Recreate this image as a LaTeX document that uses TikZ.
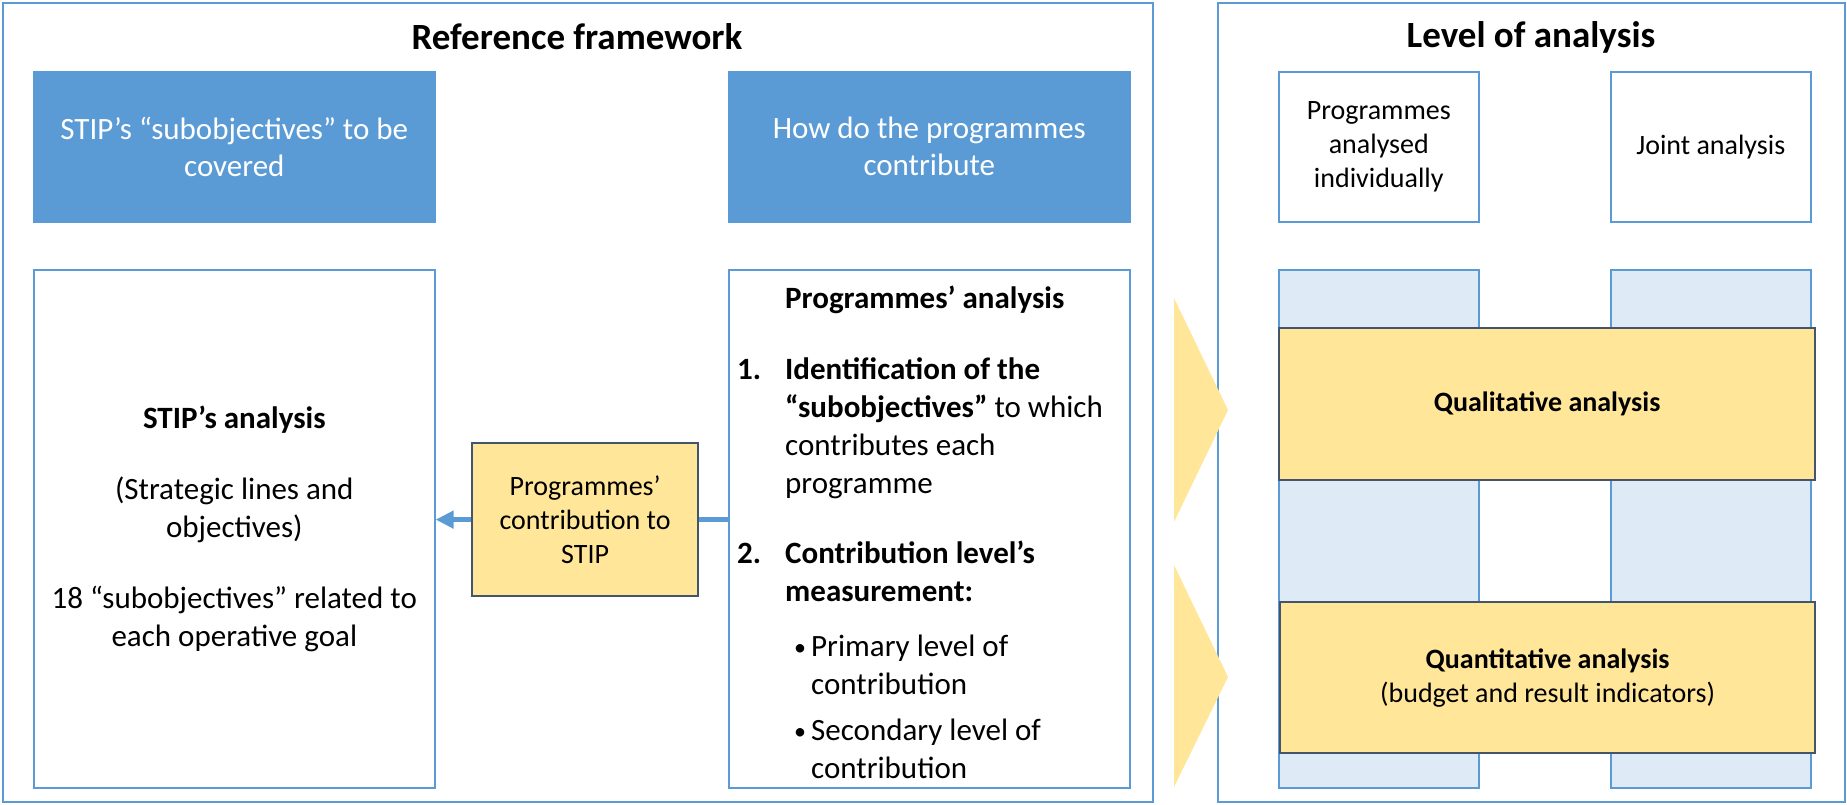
\documentclass[tikz,border=0pt]{standalone}
\usepackage{fontspec}
\setmainfont{Carlito}
\usetikzlibrary{positioning,arrows.meta}

\definecolor{officeblue}{HTML}{5B9BD5}
\definecolor{paleblue}{HTML}{DEEBF7}
\definecolor{paleyellow}{HTML}{FFE699}
\definecolor{darkslate}{HTML}{44546A}

\newcommand{\levelbullet}{\hspace{9pt}\makebox[17pt][l]{\raisebox{1.5pt}{\fontsize{24}{24}\selectfont•}}}

\tikzset{
  panel/.style={draw=officeblue, line width=1.6pt, anchor=north west, inner sep=0pt},
  headbox/.style={panel, fill=officeblue, text=white, align=center,
    minimum width=401pt, minimum height=150pt, font=\fontsize{31}{37}\selectfont},
  levelbox/.style={panel, fill=white, align=center,
    minimum width=200pt, minimum height=150pt, font=\fontsize{28}{34}\selectfont},
  column/.style={panel, fill=paleblue, minimum width=200pt, minimum height=518pt},
  keybox/.style={draw=darkslate, line width=2.2pt, fill=paleyellow, anchor=north west,
    inner sep=0pt, align=center, font=\fontsize{28}{34}\selectfont},
  heading/.style={font=\bfseries\fontsize{37}{44}\selectfont},
  flow/.style={draw=officeblue, line width=5pt, -{Triangle[length=18pt,width=17pt]}},
}

\begin{document}
\begin{tikzpicture}[x=1pt,y=-1pt]
  \useasboundingbox (0,0) rectangle (1847,804);

  % two outer panels
  \node[panel, minimum width=1150pt, minimum height=799pt] (refpanel) at (2,2) {};
  \node[panel, minimum width=627pt, minimum height=799pt] (levelpanel) at (1217,2) {};
  \node[heading] (reftitle) at (577,37) {Reference framework};
  \node[heading] (leveltitle) at (1531,37) {Level of analysis};

  % reference framework
  \node[headbox] (coverhead) at (33,71) {STIP’s “subobjectives” to be\\covered};
  \node[headbox] (contribhead) at (728,71) {How do the programmes\\contribute};

  \node[panel, minimum width=401pt, minimum height=518pt, align=center,
    font=\fontsize{31}{38}\selectfont] (stipbox) at (33,269)
    {\textbf{STIP’s analysis}\\[33pt](Strategic lines and\\objectives)\\[33pt]18 “subobjectives” related to\\each operative goal};

  \node[panel, minimum width=401pt, minimum height=518pt] (progbox) at (728,269) {};
  \node[anchor=north west, inner sep=0pt, font=\fontsize{31}{38}\selectfont] (progtext)
    at ([xshift=9pt, yshift=-13pt]progbox.north west) {%
    \begin{tabular}{@{}p{48pt}@{}l@{}}
      & \textbf{Programmes’ analysis}\\[33pt]
      \textbf{1.} & \textbf{Identification of the}\\
      & \textbf{“subobjectives”} to which\\
      & contributes each\\
      & programme\\[32pt]
      \textbf{2.} & \textbf{Contribution level’s}\\
      & \textbf{measurement:}\\[17pt]
      & \levelbullet Primary level of\\
      & \hspace{26pt}contribution\\[8pt]
      & \levelbullet Secondary level of\\
      & \hspace{26pt}contribution
    \end{tabular}};

  \node[keybox, minimum width=226pt, minimum height=153pt] (contrib) at (471,442)
    {Programmes’\\contribution to\\STIP};
  \draw[officeblue, line width=5pt] (progbox.west |- contrib.center) -- (contrib.east);
  \draw[flow] (contrib.west) -- (stipbox.east |- contrib.center);

  % chevrons
  \fill[paleyellow] (1174,298) -- (1228,410) -- (1174,522) -- cycle;
  \fill[paleyellow] (1174,565) -- (1228,677) -- (1174,787) -- cycle;

  % level of analysis
  \node[levelbox] (individual) at (1278,71) {Programmes\\analysed\\individually};
  \node[levelbox] (joint) at (1610,71) {Joint analysis};
  \node[column] (indcol) at (1278,269) {};
  \node[column] (jointcol) at (1610,269) {};
  \node[keybox, minimum width=536pt, minimum height=152pt] (qualbox) at (1278,327)
    {\textbf{Qualitative analysis}};
  \node[keybox, minimum width=535pt, minimum height=151pt] (quantbox) at (1279,601)
    {\textbf{Quantitative analysis}\\(budget and result indicators)};
\end{tikzpicture}
\end{document}
